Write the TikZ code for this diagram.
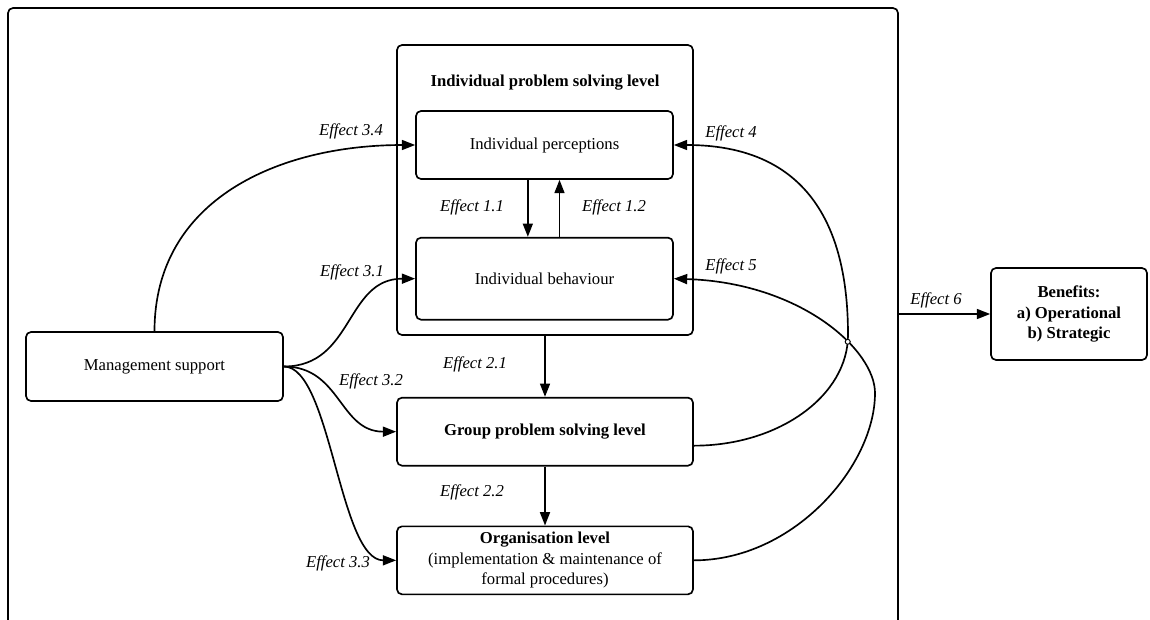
\documentclass[tikz,border=0pt]{standalone}
\usepackage{fontspec}
\setmainfont{Liberation Serif}
\usetikzlibrary{arrows.meta,positioning,intersections}

\begin{document}
\begin{tikzpicture}[
  x=0.6pt, y=-0.6pt,
  box/.style={draw, rounded corners=3pt, line width=1pt, align=center, font=\fontsize{10}{12.3}\selectfont, inner sep=2pt, minimum width=154.2pt, minimum height=40.8pt},
  boldbox/.style={box, font=\fontsize{10}{12.3}\selectfont\bfseries},
  lbl/.style={font=\fontsize{10}{12}\selectfont\itshape, inner sep=1pt},
  arr/.style={-{Triangle[length=8pt,width=6pt]}, line width=1pt}
]
\useasboundingbox (0,0) rectangle (1150,619);
% outer frame, open at the bottom
\draw[line width=1pt, rounded corners=3pt] (8,622) -- (8,8) -- (898,8) -- (898,622);

% individual level
\node[box, minimum width=177.6pt, minimum height=174pt] (ind) at (545,190) {};
\node[font=\bfseries] (indt) at (545,83) {Individual problem solving level};
\node[box] (perc) at (544.5,145) {Individual perceptions};
\node[box, minimum height=49.2pt, below=34.2pt of perc] (beh) {Individual behaviour};

% group and organisation
\node[boldbox, minimum width=177.6pt, below=36.6pt of ind] (grp) {Group problem solving level};
\node[box, minimum width=177.6pt, below=35.4pt of grp] (org) {\textbf{Organisation level}\\(implementation \& maintenance of\\formal procedures)};

\node[box, minimum height=41.4pt] (mgmt) at (154.5,366.5) {Management support};
\node[boldbox, minimum width=93.6pt, minimum height=55.2pt] (ben) at (1069,314) {Benefits:\\a) Operational\\b) Strategic};

\coordinate (fr) at (898,314);
\coordinate (b4) at (848,335);
\coordinate (b5) at (875,393);

\draw[arr] ([xshift=-10pt]perc.south) -- ([xshift=-10pt]beh.north);
\draw[arr] ([xshift=9pt]beh.north) -- ([xshift=9pt]perc.south);
\draw[arr] (ind.south) -- (grp.north);
\draw[arr] (grp) -- (org);

\draw[arr] (mgmt.north) .. controls +(0,-132) and +(-136,0) .. (perc.west);
\draw[arr] (mgmt.east) .. controls +(70,0) and +(-70,0) .. (beh.west);
\draw[arr] (mgmt.east) .. controls +(57,0) and +(-57,0) .. (grp.west);
\draw[arr] (mgmt.east) .. controls +(47,0) and +(-57,0) .. (org.west);

\draw[arr, name path=e4] ([yshift=-8.4pt]grp.east) .. controls +(86,0) and +(0,60) .. (b4) .. controls +(0,-85) and +(150,0) .. (perc.east);
\draw[arr, name path=e5] (org.east) .. controls +(100,0) and +(0,73) .. (b5) .. controls +(0,-43) and +(127,4) .. (beh.east);
\path[name intersections={of=e4 and e5, by=hop}];
\draw[line width=0.6pt, fill=white] (hop) circle (1.5pt);

\draw[arr] (fr) -- (ben);

% labels
\node[lbl] (l11) at (472,207) {Effect 1.1};
\node[lbl] (l12) at (614,207) {Effect 1.2};
\node[lbl] (l21) at (475,364) {Effect 2.1};
\node[lbl] (l22) at (472,492) {Effect 2.2};
\node[lbl] (l34) at (351,131) {Effect 3.4};
\node[lbl] (l31) at (352,272) {Effect 3.1};
\node[lbl] (l32) at (371,381) {Effect 3.2};
\node[lbl] (l33) at (338,563) {Effect 3.3};
\node[lbl] (l4) at (731,133) {Effect 4};
\node[lbl] (l5) at (731,266) {Effect 5};
\node[lbl] (l6) at (936,300) {Effect 6};
\end{tikzpicture}
\end{document}
